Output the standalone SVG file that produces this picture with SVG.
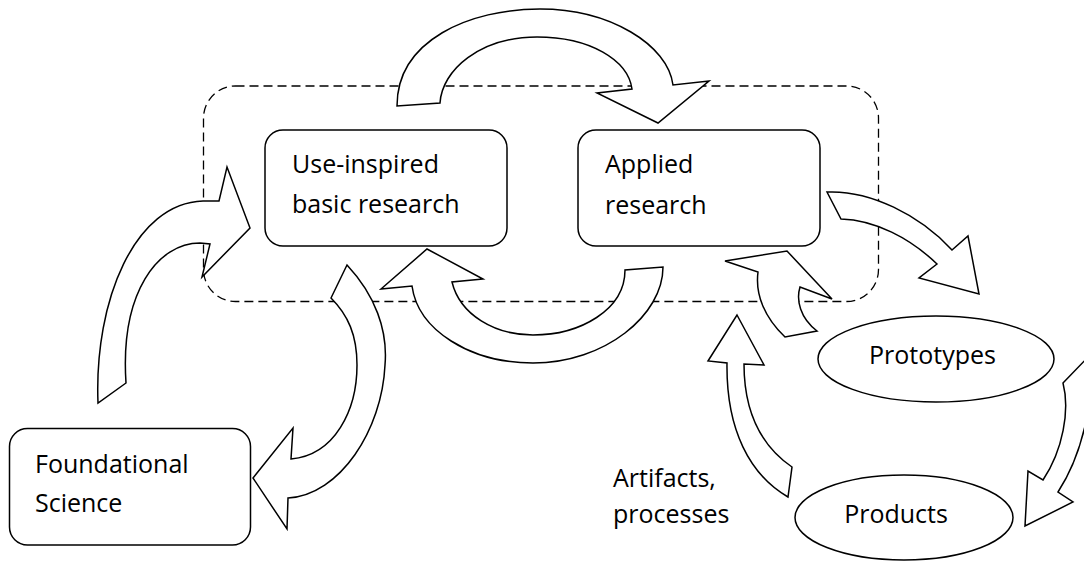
<svg xmlns="http://www.w3.org/2000/svg" width="1084" height="563" viewBox="0 0 1084 563">
<style>
.box{fill:#fff;stroke:#000;stroke-width:1.5}
.arr{fill:#fff;stroke:#000;stroke-width:1.5;stroke-linejoin:miter}
.dash{fill:none;stroke:#000;stroke-width:1.3;stroke-dasharray:9 5}
text{font-family:"Open Sans","Liberation Sans",sans-serif;font-size:25px;fill:#000}
</style>
<rect width="1084" height="563" fill="#fff"/>
<g id="group-boundary">
<rect class="dash" x="203.5" y="86" width="675" height="215.5" rx="32" ry="32"/>
</g>
<g id="node-use-inspired">
<rect class="box" x="265" y="130" width="242" height="116" rx="18" ry="18"/>
<text x="292" y="173">Use-inspired</text>
<text x="292" y="213">basic research</text>
</g>
<g id="node-applied">
<rect class="box" x="578" y="130" width="242" height="116" rx="18" ry="18"/>
<text x="605" y="173">Applied</text>
<text x="605" y="214">research</text>
</g>
<g id="node-foundational">
<rect class="box" x="9.5" y="428.5" width="241" height="116.5" rx="18" ry="18"/>
<text x="35" y="473">Foundational</text>
<text x="35" y="512">Science</text>
</g>
<g id="node-prototypes">
<ellipse class="box" cx="936" cy="359" rx="118" ry="43"/>
<text x="932.5" y="364" text-anchor="middle">Prototypes</text>
</g>
<g id="node-products">
<ellipse class="box" cx="904" cy="517.5" rx="109" ry="42.5"/>
<text x="896" y="523" text-anchor="middle">Products</text>
</g>
<g id="label-artifacts">
<text x="613" y="487">Artifacts,</text>
<text x="613" y="523">processes</text>
</g>
<g id="connectors">
<path class="arr" d="M397,106 C397,40 470,9 540,9 C610,9 668,45 673,85 L709,81 L658,123 L597,93 L632,89 C628,60 590,37 537,37 C480,37 442,70 440,103 Z"/>
<path class="arr" d="M98,403 C94,300 135,203 203,201 L219,201 L227,167 L250,228 L202,277 L210,244 L200,243 C158,243 120,292 126,383 Z"/>
<path class="arr" d="M347,265 C375,295 388,330 385,365 C382,430 340,495 288,498 L287,529 L253,478 L293,428 L291,459 C335,455 357,410 357,365 C357,335 348,315 331,298 Z"/>
<path class="arr" d="M381,289 L427,249 L483,279 L452,282 C460,315 495,335 533,335 C580,335 625,310 625,270 L663,267 C663,315 605,363 533,363 C470,363 418,330 412,286 Z"/>
<path class="arr" d="M827,192 C870,190 920,215 952,250 L968,236 L979,294 L919,278 L937,264 C910,238 875,220 841,219 Z"/>
<path class="arr" d="M725,261 L787,251 L832,299 L800,287 C796,300 800,318 817,331 L785,337 C765,318 755,295 758,272 Z"/>
<path class="arr" d="M737,315 L764,365 L744,364 C744,410 760,445 792,467 L788,497 C750,475 726,430 727,363 L708,361 Z"/>
<path class="arr" d="M1063,383 L1090,355 C1095,400 1082,455 1058,492 L1073,502 L1025,526 L1028,471 L1043,480 C1063,450 1070,410 1063,383 Z"/>
</g>
</svg>
